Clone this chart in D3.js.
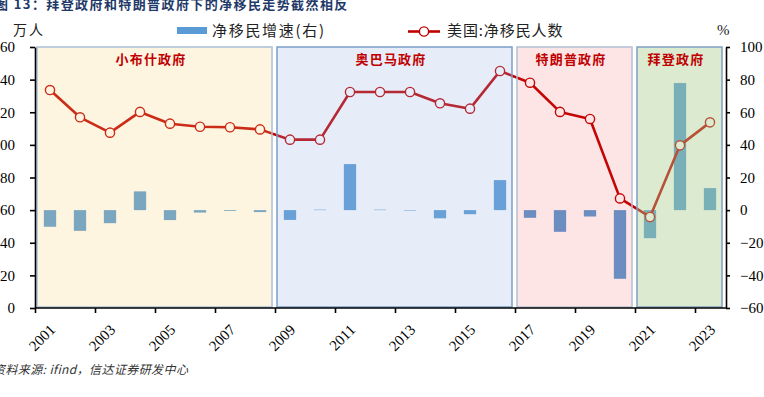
<!DOCTYPE html>
<html>
<head>
<meta charset="utf-8">
<script src="https://cdn.jsdelivr.net/npm/d3@7"></script>
<style>
  body { margin: 0; background: #fff; }
  svg { display: block; }
  .axis path, .axis line { stroke: #000; }
  .axis text { font-family: "Liberation Serif", serif; font-size: 15px; fill: #000; }
</style>
</head>
<body>
<div id="chart-area"></div>
<script>

// data
var years = d3.range(2001, 2024);
var migrants = [133.6, 116.9, 107.5, 120.2, 113.0, 111.1, 110.8, 109.5, 103.2, 103.2, 132.4, 132.4,
	132.4, 125.5, 122.2, 145.3, 138.1, 120.2, 115.9, 67.2, 55.8, 99.7, 113.8];
var growth = [-10.2, -12.7, -8.0, 11.5, -6.1, -1.5, -0.5, -1.2, -6.0, 0.3, 28.2, 0.3,
	-0.3, -5.0, -2.5, 18.4, -4.7, -13.3, -3.9, -42.1, -17.2, 77.9, 13.5];
var periodNames = ["小布什政府", "奥巴马政府", "特朗普政府", "拜登政府"];
var periodStart = [2001, 2009, 2017, 2021];
var periodEnd = [2008, 2016, 2020, 2023];
var leftTicks = d3.range(0, 161, 20);
var rightTicks = d3.range(-60, 101, 20);
var labelYears = years.filter(function(d) { return d % 2 === 1; });

var title = "图 13：拜登政府和特朗普政府下的净移民走势截然相反";
var source = "资料来源: ifind，信达证券研发中心";

// overlay colours of the shaded boxes (drawn on top, semi transparent)
var boxFill = ["#f5cf6b", "#92b1e0", "#ee2626", "#a7cd89"];
var boxOpacity = [0.21, 0.23, 0.12, 0.4];
var boxStroke = ["#a9bfd8", "#7b9dc6", "#b3bfd1", "#7f9fc1"];

var width = 764, height = 397;
var plot = {left: 35, right: 725, top: 47, bottom: 308};

var svg = d3.select("#chart-area").append("svg")
	.attr("width", width)
	.attr("height", height);

var x = d3.scaleLinear()
	.domain([2001, 2024])
	.range([plot.left, plot.right]);

var yL = d3.scaleLinear()
	.domain([0, 160])
	.range([plot.bottom, plot.top]);

var yR = d3.scaleLinear()
	.domain([-60, 100])
	.range([plot.bottom, plot.top]);

var band = x(2002) - x(2001);
function xc(yr) { return x(yr) + band / 2; }

// bars (right axis)
svg.append("g").selectAll("rect")
	.data(years)
	.enter().append("rect")
	.attr("x", function(d) { return xc(d) - band * 0.205; })
	.attr("width", band * 0.41)
	.attr("y", function(d, i) { return yR(Math.max(0, growth[i])); })
	.attr("height", function(d, i) { return Math.abs(yR(growth[i]) - yR(0)); })
	.attr("fill", "#5b9bd5");

// line (left axis)
var line = d3.line()
	.x(function(d) { return xc(d); })
	.y(function(d, i) { return yL(migrants[i]); });

svg.append("path")
	.datum(years)
	.attr("d", line)
	.attr("fill", "none")
	.attr("stroke", "#c00000")
	.attr("stroke-width", 2.6)
	.attr("stroke-linejoin", "round");

svg.append("g").selectAll("circle")
	.data(years)
	.enter().append("circle")
	.attr("cx", function(d) { return xc(d); })
	.attr("cy", function(d, i) { return yL(migrants[i]); })
	.attr("r", 4.6)
	.attr("fill", "#fff")
	.attr("stroke", "#c00000")
	.attr("stroke-width", 1.4);

// shaded boxes for each administration
var boxes = svg.append("g").selectAll("g")
	.data(periodNames)
	.enter().append("g");

boxes.append("rect")
	.attr("x", function(d, i) { return x(periodStart[i]) + 2; })
	.attr("y", plot.top)
	.attr("width", function(d, i) { return x(periodEnd[i] + 1) - 3 - (x(periodStart[i]) + 2); })
	.attr("height", plot.bottom - 1 - plot.top)
	.attr("fill", function(d, i) { return boxFill[i]; })
	.attr("fill-opacity", function(d, i) { return boxOpacity[i]; })
	.attr("stroke", function(d, i) { return boxStroke[i]; })
	.attr("stroke-width", 1.5);

boxes.append("text")
	.attr("x", function(d, i) { return (x(periodStart[i]) + x(periodEnd[i] + 1)) / 2 - 4; })
	.attr("y", 64)
	.attr("text-anchor", "middle")
	.style("font-family", "'Noto Sans CJK SC', sans-serif")
	.style("font-size", "13px")
	.style("font-weight", "bold")
	.style("letter-spacing", "1.2px")
	.style("fill", "#c00000")
	.text(function(d) { return d; });

// axes
svg.append("g")
	.attr("class", "axis")
	.attr("transform", "translate(" + plot.left + ",0)")
	.call(d3.axisLeft(yL).tickValues(leftTicks).tickSize(5).tickPadding(15).tickSizeOuter(0));

svg.append("g")
	.attr("class", "axis")
	.attr("transform", "translate(" + (plot.right + 1) + ",0)")
	.call(d3.axisRight(yR).tickValues(rightTicks).tickSize(4).tickPadding(10).tickSizeOuter(0));

var xAxis = svg.append("g")
	.attr("class", "axis")
	.attr("transform", "translate(0," + plot.bottom + ")")
	.call(d3.axisBottom(x).tickValues(labelYears).tickSize(5).tickSizeOuter(0).tickFormat(d3.format("d")));

xAxis.select(".domain").attr("d", "M" + plot.left + ",0H" + (plot.right + 1));
xAxis.selectAll("text")
	.attr("x", 0)
	.attr("y", 0)
	.attr("dy", "0.35em")
	.attr("text-anchor", "end")
	.attr("transform", "translate(17,19) rotate(-45)");

svg.selectAll(".axis path").attr("stroke-width", 1.6);
svg.selectAll(".axis line").attr("stroke-width", 1.6);

// units
svg.append("text")
	.attr("x", 13).attr("y", 35)
	.style("font-family", "'Noto Sans CJK SC', sans-serif")
	.style("font-size", "14px")
	.style("letter-spacing", "2px")
	.style("fill", "#222")
	.text("万人");

svg.append("text")
	.attr("x", 717).attr("y", 35)
	.style("font-family", "'Liberation Serif', serif")
	.style("font-size", "15px")
	.style("fill", "#222")
	.text("%");

// legend
var legend = svg.append("g");
legend.append("rect")
	.attr("x", 177).attr("y", 27)
	.attr("width", 30).attr("height", 7)
	.attr("fill", "#5b9bd5");
legend.append("text")
	.attr("x", 212).attr("y", 36)
	.style("font-family", "'Noto Sans CJK SC', sans-serif")
	.style("font-size", "15px")
	.style("letter-spacing", "1.7px")
	.style("fill", "#222")
	.text("净移民增速(右)");

legend.append("line")
	.attr("x1", 408).attr("x2", 440)
	.attr("y1", 31.5).attr("y2", 31.5)
	.attr("stroke", "#c00000")
	.attr("stroke-width", 2.6);
legend.append("circle")
	.attr("cx", 424).attr("cy", 31.5).attr("r", 4.6)
	.attr("fill", "#fff")
	.attr("stroke", "#c00000")
	.attr("stroke-width", 1.4);
legend.append("text")
	.attr("x", 447).attr("y", 36)
	.style("font-family", "'Noto Sans CJK SC', sans-serif")
	.style("font-size", "15px")
	.style("letter-spacing", "0.9px")
	.style("fill", "#222")
	.text("美国:净移民人数");

// title and source
svg.append("text")
	.attr("x", -5).attr("y", 9)
	.style("font-family", "'Noto Sans CJK SC', sans-serif")
	.style("font-size", "13px")
	.style("font-weight", "bold")
	.style("letter-spacing", "1.4px")
	.style("fill", "#1f3a68")
	.text(title);

svg.append("text")
	.attr("x", -7).attr("y", 374)
	.style("font-family", "'Noto Sans CJK SC', sans-serif")
	.style("font-size", "12px")
	.style("font-style", "italic")
	.style("letter-spacing", "0.4px")
	.style("fill", "#333")
	.text(source);

</script>
</body>
</html>
